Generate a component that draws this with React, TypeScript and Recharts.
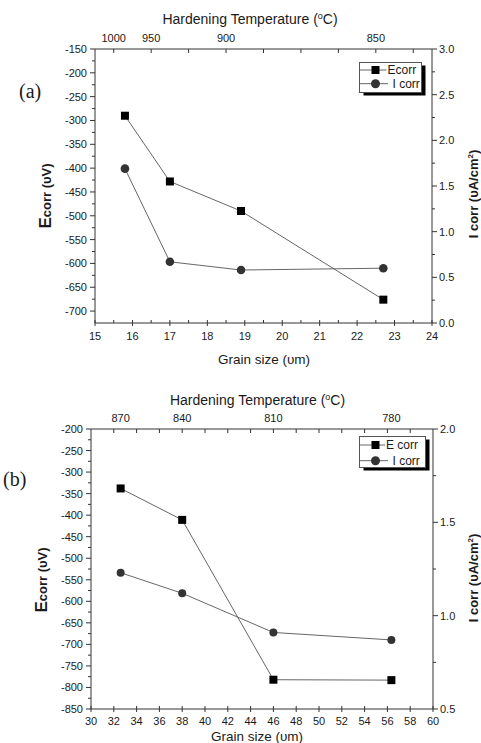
import React from 'react';
import { LineChart, Line, XAxis, YAxis, Legend, Label } from 'recharts';

const SANS = '"Liberation Sans", Arial, Helvetica, sans-serif';
const SERIF = '"Liberation Serif", "Times New Roman", serif';
const INK = '#1a1a1a';
const AXIS = '#333';
const LINE = '#666';

// panel (a)
const grainA = [15.8, 17.0, 18.9, 22.7];
const ecorrA = [-290, -428, -490, -676];
const icorrA = [1.69, 0.67, 0.58, 0.6];
const tempPosA = [15.5, 16.5, 18.5, 22.5];
const tempLabelsA = ['1000', '950', '900', '850'];
const grainLabelsA = [15, 16, 17, 18, 19, 20, 21, 22, 23, 24];
const ecorrLabelsA = [-700, -650, -600, -550, -500, -450, -400, -350, -300, -250, -200, -150];
const icorrLabelsA = [0, 0.5, 1.0, 1.5, 2.0, 2.5, 3.0];

// panel (b)
const grainB = [32.6, 38.0, 46.0, 56.35];
const ecorrB = [-338, -411, -782, -783];
const icorrB = [1.23, 1.12, 0.91, 0.87];
const tempPosB = grainB;
const tempLabelsB = ['870', '840', '810', '780'];
const grainLabelsB = [30, 32, 34, 36, 38, 40, 42, 44, 46, 48, 50, 52, 54, 56, 58, 60];
const ecorrLabelsB = [-850, -800, -750, -700, -650, -600, -550, -500, -450, -400, -350, -300, -250, -200];
const icorrLabelsB = [0.5, 1.0, 1.5, 2.0];

// tick positions (minor + major)
const steps = (from: number, to: number, step: number) => {
  const out: number[] = [];
  for (let v = from; v <= to + 1e-9; v += step) out.push(Math.round(v * 1000) / 1000);
  return out;
};
const has = (arr: number[], v: number) => arr.some((a) => Math.abs(a - v) < 1e-6);

const leftTick = (labels: number[]) => (p: any) => {
  const v = p.payload.value;
  const major = has(labels, v);
  return (
    <g>
      <line x1={p.x - (major ? 5 : 3)} x2={p.x} y1={p.y} y2={p.y} stroke={AXIS} />
      {major && (
        <text x={p.x - 8} y={p.y + 4} textAnchor="end" fontSize={11} fontFamily={SANS} fill={INK}>
          {v}
        </text>
      )}
    </g>
  );
};

const rightTick = (labels: number[]) => (p: any) => {
  const v = p.payload.value;
  const major = has(labels, v);
  return (
    <g>
      <line x1={p.x} x2={p.x + (major ? 5 : 3)} y1={p.y} y2={p.y} stroke={AXIS} />
      {major && (
        <text x={p.x + 7} y={p.y + 4} textAnchor="start" fontSize={11} fontFamily={SANS} fill={INK}>
          {v.toFixed(1)}
        </text>
      )}
    </g>
  );
};

const bottomTick = (labels: number[], dy: number) => (p: any) => {
  const v = p.payload.value;
  const major = has(labels, v);
  return (
    <g>
      <line x1={p.x} x2={p.x} y1={p.y - 3} y2={major ? p.y + 3 : p.y} stroke={AXIS} />
      {major && (
        <text x={p.x} y={p.y + dy} textAnchor="middle" fontSize={11} fontFamily={SANS} fill={INK}>
          {v}
        </text>
      )}
    </g>
  );
};

const topTick = (marks: number[], pos: number[], labels: string[]) => (p: any) => {
  const v = p.payload.value;
  const i = pos.findIndex((a) => Math.abs(a - v) < 1e-6);
  return (
    <g>
      {has(marks, v) && <line x1={p.x} x2={p.x} y1={p.y} y2={p.y + 4} stroke={AXIS} />}
      {i >= 0 && (
        <text x={p.x} y={p.y - 7} textAnchor="middle" fontSize={11} fontFamily={SANS} fill={INK}>
          {labels[i]}
        </text>
      )}
    </g>
  );
};

const squareDot = (size: number) => (p: any) => (
  <rect key={`s-${p.index}`} x={p.cx - size / 2} y={p.cy - size / 2} width={size} height={size} fill="#000" />
);
const circleDot = (r: number) => (p: any) => (
  <circle key={`c-${p.index}`} cx={p.cx} cy={p.cy} r={r} fill="#333" />
);

type Pt = { x: number; y: number };

type PanelProps = {
  grain: number[];
  ecorr: number[];
  icorr: number[];
  xDomain: [number, number];
  eDomain: [number, number];
  iDomain: [number, number];
  xTicks: number[];
  xLabels: number[];
  topMarks: number[];
  tempPos: number[];
  tempLabels: string[];
  eTicks: number[];
  eLabels: number[];
  iTicks: number[];
  iLabels: number[];
  height: number;
  topH: number;
  bottomH: number;
  leftW: number;
  rightW: number;
  xLabelDy: number;
  titleTop: Pt;
  titleBottom: Pt;
  eLabel: Pt;
  iLabel: Pt;
  legend: { left: number; top: number; w: number; h: number; rows: [number, number]; t1: number };
  ecorrName: string;
  icorrName: string;
  mark: number;
  dotR: number;
};

const LegendBox = ({ cfg, ecorrName, icorrName }: { cfg: PanelProps['legend']; ecorrName: string; icorrName: string }) => (
  <svg width={cfg.w + 6} height={cfg.h + 6} style={{ display: 'block' }}>
    <rect x={4.5} y={3.5} width={cfg.w} height={cfg.h} fill="#000" />
    <rect x={0.5} y={0.5} width={cfg.w} height={cfg.h} fill="#fff" stroke="#555" />
    <line x1={1} x2={cfg.t1 - 1} y1={cfg.rows[0]} y2={cfg.rows[0]} stroke={LINE} />
    <rect x={12.5} y={cfg.rows[0] - 4} width={8} height={8} fill="#000" />
    <text x={cfg.t1} y={cfg.rows[0] + 4.3} fontSize={12} fontFamily={SANS} fill={INK}>
      {ecorrName}
    </text>
    <line x1={1} x2={29} y1={cfg.rows[1]} y2={cfg.rows[1]} stroke={LINE} />
    <circle cx={16.5} cy={cfg.rows[1]} r={4.5} fill="#333" />
    <text x={33.5} y={cfg.rows[1] + 4.3} fontSize={12} fontFamily={SANS} fill={INK}>
      {icorrName}
    </text>
  </svg>
);

const Panel = (c: PanelProps) => {
  const data = c.grain.map((g, i) => ({ grain: g, ecorr: c.ecorr[i], icorr: c.icorr[i] }));
  const topTicks = Array.from(new Set([...c.topMarks, ...c.tempPos])).sort((a, b) => a - b);
  return (
    <LineChart width={481} height={c.height} data={data} margin={{ top: 0, right: 0, bottom: 0, left: 0 }}>
      <XAxis
        xAxisId="bottom"
        dataKey="grain"
        type="number"
        orientation="bottom"
        domain={c.xDomain}
        ticks={c.xTicks}
        interval={0}
        height={c.bottomH}
        tickSize={0}
        tickMargin={0}
        tick={bottomTick(c.xLabels, c.xLabelDy)}
        axisLine={{ stroke: AXIS }}
        tickLine={false}
      >
        <Label
          content={() => (
            <text x={c.titleBottom.x} y={c.titleBottom.y} textAnchor="middle" fontSize={13.5} fontFamily={SANS} fill={INK}>
              Grain size (υm)
            </text>
          )}
        />
      </XAxis>
      <XAxis
        xAxisId="top"
        dataKey="grain"
        type="number"
        orientation="top"
        domain={c.xDomain}
        ticks={topTicks}
        interval={0}
        height={c.topH}
        tickSize={0}
        tickMargin={0}
        tick={topTick(c.topMarks, c.tempPos, c.tempLabels)}
        axisLine={{ stroke: AXIS }}
        tickLine={false}
      >
        <Label
          content={() => (
            <text x={c.titleTop.x} y={c.titleTop.y} textAnchor="middle" fontSize={14} fontFamily={SANS} fill={INK}>
              Hardening Temperature (
              <tspan fontSize={9} dy={-5}>
                o
              </tspan>
              <tspan dy={5}>C)</tspan>
            </text>
          )}
        />
      </XAxis>
      <YAxis
        yAxisId="left"
        orientation="left"
        domain={c.eDomain}
        type="number"
        ticks={c.eTicks}
        interval={0}
        width={c.leftW}
        tickSize={0}
        tickMargin={0}
        tick={leftTick(c.eLabels)}
        axisLine={{ stroke: AXIS }}
        tickLine={false}
      >
        <Label
          content={() => (
            <text
              transform={`translate(${c.eLabel.x},${c.eLabel.y}) rotate(-90)`}
              textAnchor="middle"
              fontFamily={SANS}
              fontWeight="bold"
              fill={INK}
            >
              <tspan fontSize={17}>E</tspan>
              <tspan fontSize={13}>corr (υV)</tspan>
            </text>
          )}
        />
      </YAxis>
      <YAxis
        yAxisId="right"
        orientation="right"
        domain={c.iDomain}
        type="number"
        ticks={c.iTicks}
        interval={0}
        width={c.rightW}
        tickSize={0}
        tickMargin={0}
        tick={rightTick(c.iLabels)}
        axisLine={{ stroke: AXIS }}
        tickLine={false}
      >
        <Label
          content={() => (
            <text
              transform={`translate(${c.iLabel.x},${c.iLabel.y}) rotate(-90)`}
              textAnchor="middle"
              fontFamily={SANS}
              fontWeight="bold"
              fontSize={13}
              fill={INK}
            >
              I corr (υA/cm
              <tspan fontSize={8} dy={-5}>
                2
              </tspan>
              <tspan dy={5}>)</tspan>
            </text>
          )}
        />
      </YAxis>
      <Legend
        layout="horizontal"
        verticalAlign="middle"
        align="center"
        wrapperStyle={{ left: c.legend.left, top: c.legend.top, width: c.legend.w + 6, height: c.legend.h + 6 }}
        content={() => <LegendBox cfg={c.legend} ecorrName={c.ecorrName} icorrName={c.icorrName} />}
      />
      <Line
        xAxisId="bottom"
        yAxisId="left"
        type="linear"
        dataKey="ecorr"
        name={c.ecorrName}
        stroke={LINE}
        strokeWidth={1}
        dot={squareDot(c.mark)}
        activeDot={false}
        isAnimationActive={false}
      />
      <Line
        xAxisId="top"
        yAxisId="right"
        type="linear"
        dataKey="icorr"
        name={c.icorrName}
        stroke={LINE}
        strokeWidth={1}
        dot={circleDot(c.dotR)}
        activeDot={false}
        isAnimationActive={false}
      />
    </LineChart>
  );
};

export default function App() {
  return (
    <div style={{ position: 'absolute', left: 0, top: 0, width: 481, height: 743, background: '#fff', overflow: 'hidden' }}>
      <div style={{ position: 'absolute', left: 0, top: 0 }}>
        <Panel
          grain={grainA}
          ecorr={ecorrA}
          icorr={icorrA}
          xDomain={[15, 24]}
          eDomain={[-725, -150]}
          iDomain={[0, 3]}
          xTicks={steps(15, 24, 0.5)}
          xLabels={grainLabelsA}
          topMarks={steps(15.5, 23.5, 1)}
          tempPos={tempPosA}
          tempLabels={tempLabelsA}
          eTicks={steps(-700, -150, 25)}
          eLabels={ecorrLabelsA}
          iTicks={steps(0, 3, 0.25)}
          iLabels={icorrLabelsA}
          height={372}
          topH={49}
          bottomH={49}
          leftW={95}
          rightW={49}
          xLabelDy={17}
          titleTop={{ x: 250, y: 24 }}
          titleBottom={{ x: 264, y: 364 }}
          eLabel={{ x: 50.5, y: 196 }}
          iLabel={{ x: 478, y: 194 }}
          legend={{ left: 359, top: 62, w: 62, h: 30, rows: [8, 21.7], t1: 28.5 }}
          ecorrName="Ecorr"
          icorrName="I corr"
          mark={8}
          dotR={4.3}
        />
      </div>
      <div style={{ position: 'absolute', left: 0, top: 372 }}>
        <Panel
          grain={grainB}
          ecorr={ecorrB}
          icorr={icorrB}
          xDomain={[30, 60]}
          eDomain={[-850, -200]}
          iDomain={[0.5, 2.0]}
          xTicks={steps(30, 60, 2)}
          xLabels={grainLabelsB}
          topMarks={steps(32, 58, 2)}
          tempPos={tempPosB}
          tempLabels={tempLabelsB}
          eTicks={steps(-850, -200, 25)}
          eLabels={ecorrLabelsB}
          iTicks={steps(0.5, 2.0, 0.25)}
          iLabels={icorrLabelsB}
          height={371}
          topH={57}
          bottomH={34}
          leftW={91}
          rightW={48}
          xLabelDy={15.5}
          titleTop={{ x: 257.5, y: 33 }}
          titleBottom={{ x: 257, y: 368.5 }}
          eLabel={{ x: 46.5, y: 208 }}
          iLabel={{ x: 478, y: 206 }}
          legend={{ left: 359, top: 64, w: 66, h: 31, rows: [9, 24.7], t1: 27 }}
          ecorrName="E corr"
          icorrName="I corr"
          mark={8}
          dotR={4}
        />
      </div>
      <svg width={481} height={743} style={{ position: 'absolute', left: 0, top: 0, pointerEvents: 'none' }}>
        <text x={19} y={97.5} fontSize={20} fontFamily={SERIF} fill={INK}>
          (a)
        </text>
        <text x={3} y={486} fontSize={20} fontFamily={SERIF} fill={INK}>
          (b)
        </text>
      </svg>
    </div>
  );
}
